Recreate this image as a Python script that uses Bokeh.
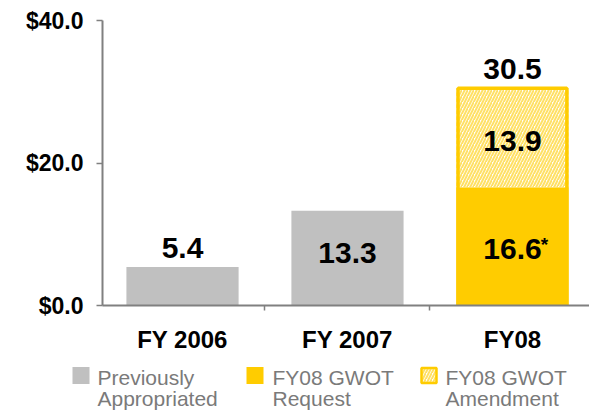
from bokeh.plotting import figure
from bokeh.models import Range1d, FixedTicker, ColumnDataSource, Column
from bokeh.embed import file_html
from bokeh.resources import INLINE
from bokeh.core.properties import value

# ---------------- data ----------------
categories = ["FY 2006", "FY 2007", "FY08"]
x_pos = [1, 2, 3]
previously_appropriated = [5.4, 13.3, 0.0]
gwot_request = [0.0, 0.0, 16.6]
gwot_amendment = [0.0, 0.0, 13.9]
y_ticks = [0, 20, 40]
y_tick_labels = ["$0.0", "$20.0", "$40.0"]
legend_labels = [["Previously", "Appropriated"],
                 ["FY08 GWOT", "Request"],
                 ["FY08 GWOT", "Amendment"]]

GRAY = "#C0C0C0"
GOLD = "#FFCC00"
AXIS = "#808080"
TXT_GRAY = "#7A7A7A"
FONT = value("Liberation Sans")

# ---------------- main chart ----------------
p = figure(width=589, height=355, output_backend="svg", toolbar_location=None,
           x_range=Range1d(0.515, 3.467), y_range=Range1d(0, 40),
           min_border_left=102, min_border_right=0, min_border_top=20,
           min_border_bottom=49)
p.outline_line_color = None
p.xgrid.visible = False
p.ygrid.visible = False
p.background_fill_color = "white"
p.border_fill_color = "white"

bw = 0.68
# gray bars (previously appropriated)
gray_src = ColumnDataSource(dict(x=x_pos[:2], top=previously_appropriated[:2]))
p.vbar(x="x", top="top", bottom=0, width=bw, source=gray_src,
       fill_color=GRAY, line_color=None)

# FY08 request (solid gold)
req_top = gwot_request[2]
amd_top = gwot_request[2] + gwot_amendment[2]
p.vbar(x=[x_pos[2]], bottom=[0], top=[req_top], width=bw,
       fill_color=GOLD, line_color=None)
# FY08 amendment (hatched)
p.vbar(x=[x_pos[2]], bottom=[req_top], top=[amd_top], width=bw,
       fill_color="white", line_color=None,
       hatch_pattern="/", hatch_color=GOLD, hatch_alpha=0.6,
       hatch_scale=6, hatch_weight=2)
# outline of total FY08 bar
p.vbar(x=[x_pos[2]], bottom=[0], top=[amd_top], width=bw - 0.02,
       fill_color=None, line_color=GOLD, line_width=3.5)

# value labels
lbl = dict(text_align="center", text_baseline="middle", text_font=FONT,
           text_font_style="bold", text_font_size="30px", text_color="black")
# above bars
p.text(x=[x_pos[0], x_pos[2]], y=[previously_appropriated[0], amd_top],
       text=[f"{previously_appropriated[0]:.1f}", f"{amd_top:.1f}"],
       y_offset=-19, **lbl)
# inside bars
p.text(x=[x_pos[1]], y=[previously_appropriated[1] / 2],
       text=[f"{previously_appropriated[1]:.1f}"], y_offset=-5, **lbl)
p.text(x=[x_pos[2]], y=[req_top / 2], text=[f"{req_top:.1f}"], y_offset=3, **lbl)
p.text(x=[x_pos[2]], y=[req_top + gwot_amendment[2] / 2],
       text=[f"{gwot_amendment[2]:.1f}"], y_offset=3, **lbl)
# asterisk
p.text(x=[x_pos[2]], y=[req_top / 2], text=["*"],
       text_align="center", text_baseline="middle", x_offset=32, y_offset=-2,
       text_font=FONT, text_font_style="bold", text_font_size="19px",
       text_color="black")

# axes
xa = p.xaxis[0]
xa.ticker = FixedTicker(ticks=x_pos, minor_ticks=[1.5, 2.5])
xa.major_label_overrides = {x: c for x, c in zip(x_pos, categories)}
xa.major_tick_in = 0
xa.major_tick_out = 0
xa.minor_tick_in = 0
xa.minor_tick_out = 5
xa.minor_tick_line_color = AXIS
xa.minor_tick_line_width = 1.5
xa.axis_line_color = AXIS
xa.axis_line_width = 2
xa.major_label_text_font = "Liberation Sans"
xa.major_label_text_font_style = "bold"
xa.major_label_text_font_size = "24px"
xa.major_label_text_color = "black"
xa.major_label_standoff = 15

ya = p.yaxis[0]
ya.ticker = FixedTicker(ticks=y_ticks)
ya.major_label_overrides = {t: l for t, l in zip(y_ticks, y_tick_labels)}
ya.major_tick_in = 0
ya.major_tick_out = 6
ya.major_tick_line_color = AXIS
ya.major_tick_line_width = 1.5
ya.minor_tick_line_color = None
ya.axis_line_color = AXIS
ya.axis_line_width = 2
ya.major_label_text_font = "Liberation Sans"
ya.major_label_text_font_style = "bold"
ya.major_label_text_font_size = "23px"
ya.major_label_text_color = "black"
ya.major_label_standoff = 13

# ---------------- legend ----------------
# legend panel: data units equal page pixels (x from page left, y from panel top)
LH = 55
lg = figure(width=589, height=LH, output_backend="svg", toolbar_location=None,
            x_range=Range1d(0, 589), y_range=Range1d(LH, 0),
            min_border=0)
lg.axis.visible = False
lg.grid.visible = False
lg.outline_line_color = None
lg.background_fill_color = "white"
lg.border_fill_color = "white"

sq_x = [80.5, 254.5, 428.5]
txt_x = [97, 272, 445]
sq_y = 20
lg.rect(x=sq_x[:2], y=[sq_y] * 2, width=17, height=17,
        fill_color=[GRAY, GOLD], line_color=None)
lg.rect(x=[sq_x[2]], y=[sq_y], width=15, height=15,
        fill_color="white", line_color=GOLD, line_width=2.5,
        hatch_pattern="/", hatch_color=GOLD, hatch_alpha=0.6,
        hatch_scale=6, hatch_weight=2)
lg.text(x=txt_x, y=[22] * 3, text=[l[0] for l in legend_labels],
        text_align="left", text_baseline="middle",
        text_font=FONT, text_font_size="21px", text_color=TXT_GRAY)
lg.text(x=txt_x, y=[43] * 3, text=[l[1] for l in legend_labels],
        text_align="left", text_baseline="middle",
        text_font=FONT, text_font_size="21px", text_color=TXT_GRAY)

# stack without frame alignment so the legend panel spans the full width
p.frame_align = False
lg.frame_align = False
layout = Column(children=[p, lg], spacing=0)
open("out.html", "w").write(file_html(layout, INLINE))
